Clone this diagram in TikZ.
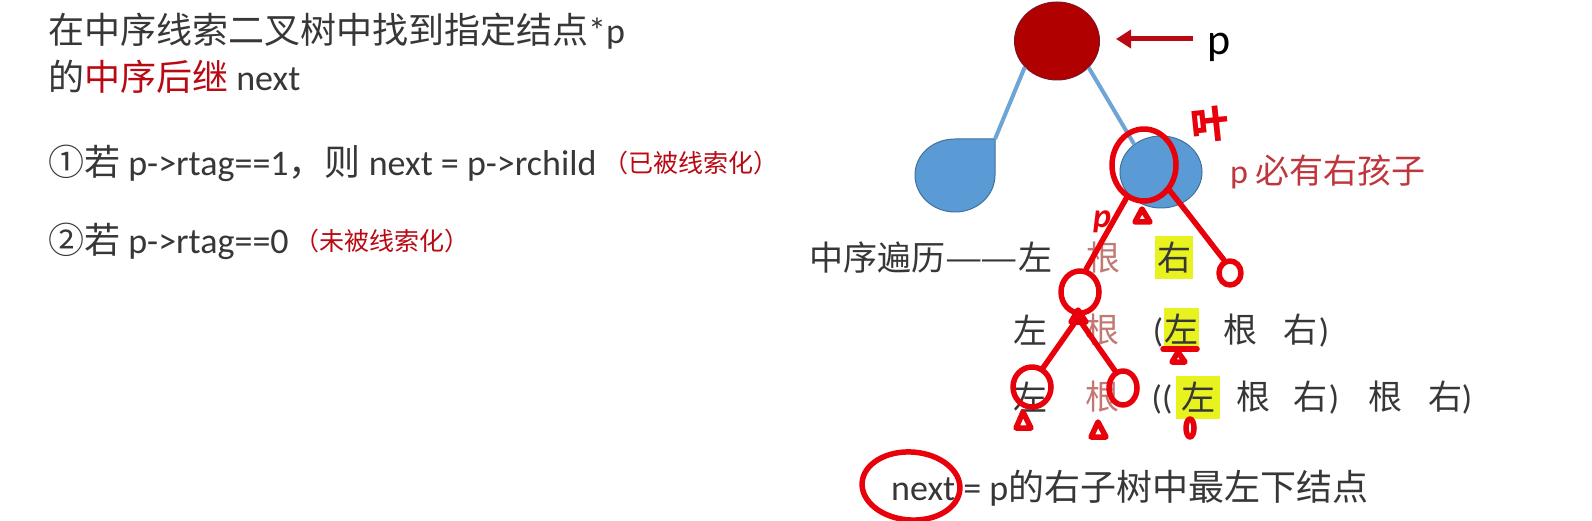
\documentclass[tikz,border=0pt]{standalone}
\usepackage{fontspec}
\usepackage{graphicx}
\setmainfont{Carlito}
\newfontfamily\cjk{Noto Sans CJK SC}
\usetikzlibrary{arrows.meta,shapes.geometric}
\definecolor{txtgray}{RGB}{55,55,55}
\definecolor{darkred}{RGB}{185,10,20}
\definecolor{rootred}{RGB}{176,0,0}
\definecolor{rootline}{RGB}{125,20,35}
\definecolor{nodeblue}{RGB}{91,155,213}
\definecolor{nodeline}{RGB}{65,113,156}
\definecolor{branchblue}{RGB}{110,165,215}
\definecolor{notered}{RGB}{190,55,60}
\definecolor{genpink}{RGB}{195,120,115}
\definecolor{penred}{RGB}{232,0,10}
\definecolor{hilite}{RGB}{232,242,30}
\newcommand{\fsz}[1]{\fontsize{#1}{#1}\selectfont}
\newcommand{\widedash}{\resizebox{1.1em}{\height}{—}}
\tikzset{
  txt/.style={inner sep=0pt, text=txtgray, font=\fsz{36}},
  han/.style={inner sep=0pt, text=txtgray, font=\fsz{34}\cjk},
  gen/.style={han, text=genpink},
  paren/.style={inner sep=0pt, text=txtgray, font=\fsz{34}},
  hl/.style={fill=hilite, minimum height=43pt, minimum width=#1},
  note/.style={inner sep=0pt, text=darkred, font=\fsz{25}\cjk},
  pen/.style={draw=penred, line width=5.5pt, line cap=round, line join=round},
  ring/.style={pen, ellipse, inner sep=0pt},
  branch/.style={draw=branchblue, line width=4pt},
  bnode/.style={ellipse, fill=nodeblue, draw=nodeline, line width=1pt},
  parrow/.style={draw=darkred, line width=5pt, -{Triangle[length=15pt,width=18pt]}}
}

\begin{document}
\begin{tikzpicture}[x=1pt,y=-1pt]
  \fill[white] (0,0) rectangle (1592,521);
  \useasboundingbox (0,0) rectangle (1592,521);

  % left column
  \node[txt, anchor=west] (title) at (48,31)
    {{\cjk 在中序线索二叉树中找到指定结点}*p};
  \node[txt, anchor=west] (titletwo) at (48,77)
    {{\cjk 的\textcolor{darkred}{中序后继}} next};
  \node[txt, anchor=west] (caseone) at (48,163)
    {{\cjk ①若} p->rtag==1{\cjk ，则} next = p->rchild};
  \node[note, anchor=west] (noteone) at ([xshift=7pt]caseone.east) {（已被线索化）};
  \node[txt, anchor=west] (casetwo) at (48,241) {{\cjk ②若} p->rtag==0};
  \node[note, anchor=west] (notetwo) at ([xshift=5pt]casetwo.east) {（未被线索化）};

  % the tree
  \node[bnode, fill=rootred, draw=rootline, minimum width=85pt, minimum height=78pt]
    (root) at (1057,41) {};
  \node[bnode, minimum width=82pt, minimum height=72pt] (rchild) at (1161,172) {};
  \coordinate (lchild) at (995,139);
  \filldraw[fill=nodeblue, draw=nodeline, line width=1pt]
    (lchild) -- (995,175) .. controls (995,195.4) and (977.1,212) .. (955,212)
    .. controls (932.9,212) and (915,195.4) .. (915,175)
    .. controls (915,154.6) and (932.9,139) .. (955,139) -- cycle;
  \draw[branch] (root.-141) -- (lchild);
  \draw[branch] (root.-40) -- (rchild.134);

  \node[inner sep=0pt, text=black, font=\fsz{44}, anchor=base] (plabel) at (1219,55) {p};
  \coordinate (ptail) at (1193,39);
  \draw[parrow, shorten >=16pt] (ptail) -- (ptail -| root.east);
  \node[inner sep=0pt, text=notered, font=\fsz{34}, anchor=west] (musthave) at (1230,172)
    {p {\cjk 必有右孩子}};

  % in-order rows
  \node[han, anchor=west] (trav) at (809,258)
    {中序遍历\widedash\kern-0.05em\widedash 左};
  \node[gen] (rowagen) at (1103,258) {根};
  \node[han, hl=38pt] (rowayou) at (1174,258) {右};

  \node[han] (rowbzuo) at (1030,330) {左};
  \node[gen] (rowbgen) at (1102,330) {根};
  \node[paren] (rowbopen) at (1158,332) {(};
  \node[han, hl=35pt] (rowbhl) at (1181,329) {左};
  \node[han] (rowbroot) at (1240,330) {根};
  \node[han] (rowbright) at (1300,330) {右};
  \node[paren] (rowbclose) at (1324,332) {)};

  \node[han] (rowczuo) at (1030,397) {左};
  \node[gen] (rowcgen) at (1102,397) {根};
  \node[paren] (rowcopen) at (1162,399) {((};
  \node[han, hl=44pt] (rowchl) at (1198,397) {左};
  \node[han] (rowcroot) at (1253,397) {根};
  \node[han] (rowcright) at (1310,397) {右};
  \node[paren] (rowcclose) at (1334,399) {)};
  \node[han] (rowcroottwo) at (1385,397) {根};
  \node[han] (rowcrighttwo) at (1445,397) {右};
  \node[paren] (rowccloseb) at (1467,399) {)};

  \node[txt, anchor=west] (nextdef) at (891,488)
    {next = p{\cjk 的右子树中最左下结点}};

  % red pen marks
  \node[ring, minimum width=64pt, minimum height=72pt] (bigring) at (1144,165) {};
  \node[ring, minimum width=38pt, minimum height=42pt] (ringa) at (1080,292) {};
  \node[ring, minimum width=38pt, minimum height=40pt] (ringl) at (1032,387) {};
  \node[ring, minimum width=28pt, minimum height=34pt] (ringr) at (1123,388) {};
  \node[ring, minimum width=22pt, minimum height=24pt] (ringc) at (1230,273) {};
  \node[ring, minimum width=98pt, minimum height=68pt, rotate=-4] (nextring) at (911,486) {};
  \coordinate (knot) at (1078,318);

  \draw[pen] (bigring.-118) -- (ringa.75);
  \draw[pen] (knot) -- (ringl.60);
  \draw[pen] (knot) -- (ringr.115);
  \draw[pen] (bigring.-45) .. controls (1195,222) and (1212,245) .. (ringc.115);
  \draw[pen] (1135,222) -- (1142,209) -- (1150,222) -- cycle;
  \draw[pen] (1071,322) -- (1078,310) -- (1086,322) -- cycle;
  \draw[pen] (1016,428) -- (1023,412) -- (1031,428) -- cycle;
  \draw[pen] (1091,437) -- (1098,422) -- (1106,437) -- cycle;
  \draw[pen] (1163,349) -- (1197,349);
  \draw[pen] (1172,362) -- (1178,352) -- (1185,362) -- cycle;
  \draw[pen] (1190,428) ellipse [x radius=4, y radius=9];
  \node[inner sep=0pt, text=penred, font=\fsz{38}\cjk\bfseries, rotate=6] (yemark) at (1210,124) {叶};
  \node[inner sep=0pt, text=penred, font=\fsz{34}\itshape\bfseries] (pmark) at (1102,222) {p};
\end{tikzpicture}
\end{document}
